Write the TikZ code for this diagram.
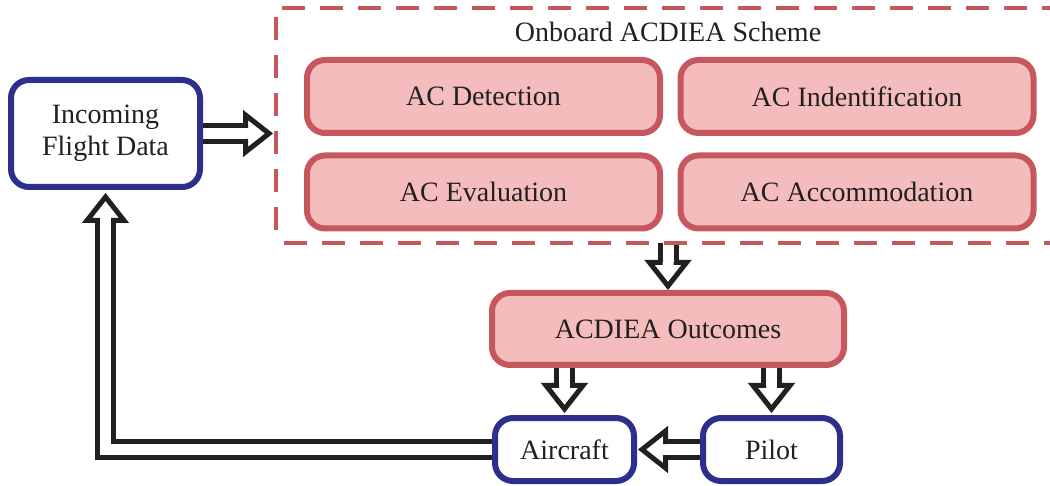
\documentclass[tikz,border=0pt]{standalone}
\usepackage{fontspec}
\setmainfont{Liberation Serif}
\usetikzlibrary{calc,backgrounds}
\definecolor{boxred}{RGB}{198,87,93}
\definecolor{boxpink}{RGB}{244,188,188}
\definecolor{boxblue}{RGB}{44,48,140}
\definecolor{ink}{RGB}{35,31,32}
\newcommand\hollowhead[2]{% #1 = point behind the head, #2 = tip
  \coordinate (hb) at ($(#2)!23.5pt!(#1)$);
  \draw[headline] ($(hb)!5.5pt!90:(#2)$) -- ($(hb)!18.5pt!90:(#2)$) -- (#2)
     -- ($(hb)!18.5pt!-90:(#2)$) -- ($(hb)!5.5pt!-90:(#2)$);
}
\newcommand\hollowarrow[2]{% #1 = start, #2 = tip
  \hollowhead{#1}{#2}
  \draw[shaft] (#1) -- (hb);
}
\begin{document}
\begin{tikzpicture}[x=1pt,y=-1pt,
  every node/.style={font=\fontsize{28}{32}\selectfont, text=ink, outer sep=0pt, inner sep=0pt},
  redbox/.style={draw=boxred, fill=boxpink, line width=6pt, rounded corners=18pt,
                 minimum width=353pt, minimum height=73pt},
  bluebox/.style={draw=boxblue, fill=white, line width=6pt, rounded corners=18pt, align=center},
  schemebox/.style={draw=boxred, line width=4pt, dash pattern=on 23pt off 15pt, dash phase=30pt},
  shaft/.style={draw=ink, line width=5pt, double=white, double distance=11pt, line join=miter},
  headline/.style={draw=ink, line width=5pt, line join=miter},
]
\useasboundingbox (0,0) rectangle (1050,486);
\clip (0,0) rectangle (1050,486);

\node[bluebox, minimum width=189pt, minimum height=107pt] (incoming) at (105.5,133.5) {Incoming\\Flight Data};
\node[schemebox, minimum width=794pt, minimum height=235pt] (scheme) at (673,125.5) {};
\node[anchor=base] (title) at (668,42) {Onboard ACDIEA Scheme};
\node[redbox] (det) at (483.5,96.5) {AC Detection};
\node[redbox] (ident) at (857,96.5) {AC Indentification};
\node[redbox] (eval) at (483.5,192) {AC Evaluation};
\node[redbox] (accom) at (857,192) {AC Accommodation};
\node[redbox, minimum width=352pt, minimum height=72pt] (out) at (668,329) {ACDIEA Outcomes};
\node[bluebox, minimum width=139pt, minimum height=63pt] (aircraft) at (564.5,449.5) {Aircraft};
\node[bluebox, minimum width=137pt, minimum height=63pt] (pilot) at (771.5,449.5) {Pilot};

\begin{scope}[on background layer]
  \coordinate (s1) at (incoming.east);
  \coordinate (t1) at ($(incoming.east -| scheme.west)+(-7,0)$);
  \hollowarrow{s1}{t1}
  \coordinate (s2) at (out.north |- scheme.south);
  \coordinate (t2) at ($(out.north)+(0,-7)$);
  \hollowarrow{s2}{t2}
  \coordinate (s3) at (aircraft.north |- out.south);
  \coordinate (t3) at ($(aircraft.north)+(0,-9)$);
  \hollowarrow{s3}{t3}
  \coordinate (s4) at (pilot.north |- out.south);
  \coordinate (t4) at ($(pilot.north)+(0,-9)$);
  \hollowarrow{s4}{t4}
  \coordinate (s5) at (pilot.west);
  \coordinate (t5) at ($(aircraft.east)+(8,0)$);
  \hollowarrow{s5}{t5}
  \coordinate (c6) at (incoming.south |- aircraft.west);
  \coordinate (t6) at ($(incoming.south)+(0,10)$);
  \hollowhead{c6}{t6}
  \draw[shaft] (aircraft.west) -- (c6) -- (hb);
\end{scope}
\end{tikzpicture}
\end{document}
